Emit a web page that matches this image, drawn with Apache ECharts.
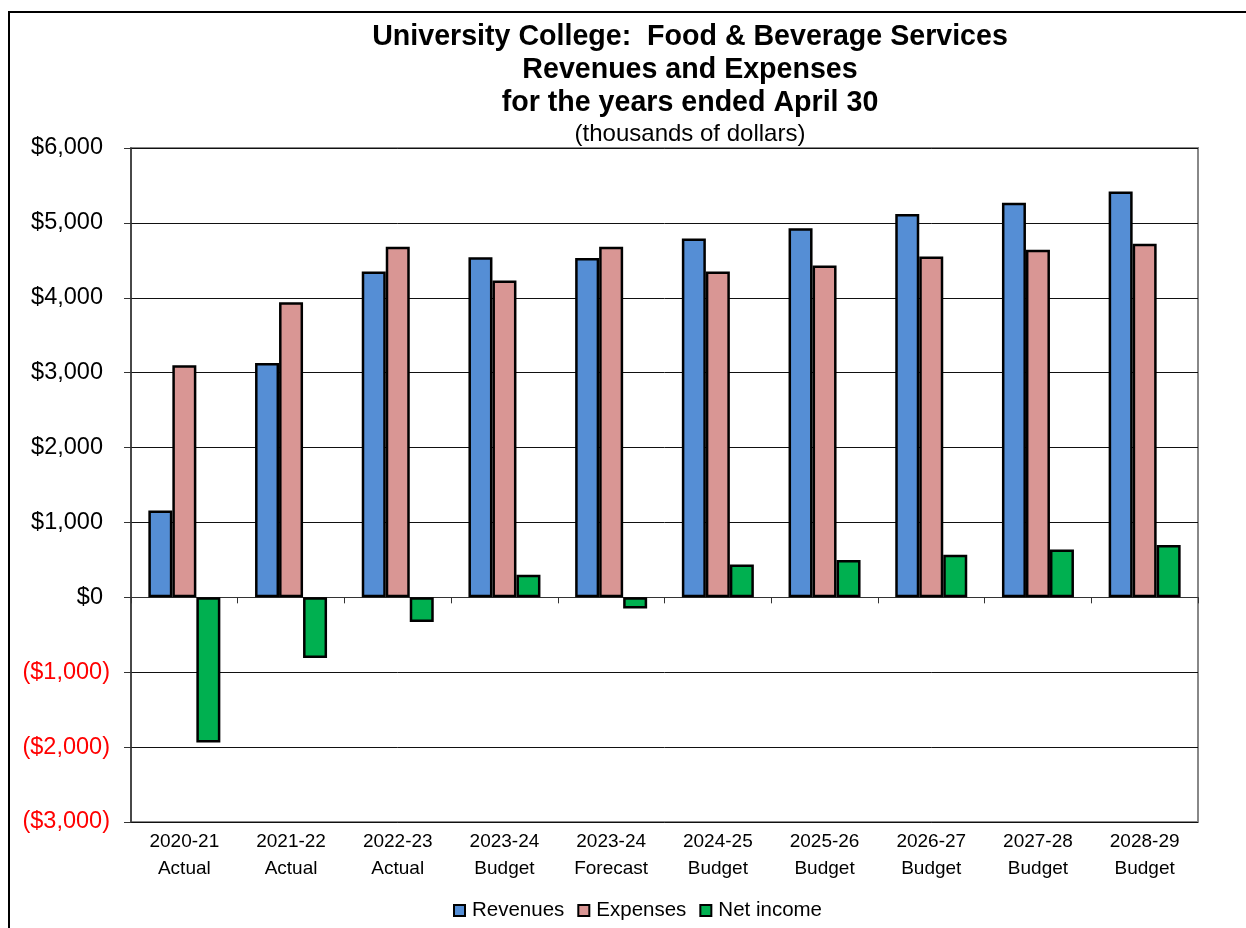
<!DOCTYPE html>
<html>
<head>
<meta charset="utf-8">
<title>University College: Food & Beverage Services</title>
<script src="https://cdn.jsdelivr.net/npm/echarts@6/dist/echarts.min.js"></script>
<style>
  html, body { margin: 0; padding: 0; background: #fff; }
  #chart { width: 1246px; height: 928px; }
</style>
</head>
<body>
<div id="chart"></div>
<script>
// Fiscal years and the kind of figure shown for each (thousands of dollars)
const years = ['2020-21', '2021-22', '2022-23', '2023-24', '2023-24', '2024-25', '2025-26', '2026-27', '2027-28', '2028-29'];
const kinds = ['Actual', 'Actual', 'Actual', 'Budget', 'Forecast', 'Budget', 'Budget', 'Budget', 'Budget', 'Budget'];

const revenues  = [1160, 3130, 4350, 4540, 4530, 4790, 4930, 5120, 5270, 5420];
const expenses  = [3100, 3940, 4680, 4230, 4680, 4350, 4430, 4550, 4640, 4720];
const netIncome = [-1940, -810, -330, 300, -150, 440, 500, 570, 640, 700];

const seriesNames = ['Revenues', 'Expenses', 'Net income'];
const yTicks = { min: -3000, max: 6000, step: 1000 };

const categories = years.map((y, i) => y + '\n' + kinds[i]);

const FONT = "'Liberation Sans', Arial, sans-serif";

function money(v) {
  return '$' + Math.abs(v).toString().replace(/\B(?=(\d{3})+(?!\d))/g, ',');
}

const chart = echarts.init(document.getElementById('chart'), null, { renderer: 'canvas' });

const barStyle = color => ({ color: color, borderColor: '#000', borderWidth: 2.5 });

chart.setOption({
  backgroundColor: '#fff',
  animation: false,
  title: [
    {
      text: 'University College:  Food & Beverage Services\nRevenues and Expenses\nfor the years ended April 30',
      left: 685, top: 16, textAlign: 'center',
      textStyle: { fontFamily: FONT, fontSize: 28.6, fontWeight: 'bold', color: '#000', lineHeight: 33 }
    },
    {
      text: '(thousands of dollars)',
      left: 685, top: 117, textAlign: 'center',
      textStyle: { fontFamily: FONT, fontSize: 24, fontWeight: 'normal', color: '#000' }
    }
  ],
  graphic: [
    {
      type: 'rect', silent: true, z: 100,
      shape: { x: 9, y: 12, width: 1400, height: 1000 },
      style: { fill: 'none', stroke: '#000', lineWidth: 2 }
    }
  ],
  legend: {
    data: seriesNames,
    bottom: 2, left: 448,
    itemWidth: 11, itemHeight: 11, itemGap: 13,
    icon: 'rect',
    textStyle: { fontFamily: FONT, fontSize: 20.5, color: '#000', padding: [0, 0, 0, 2] }
  },
  grid: {
    left: 131, right: 48, top: 148, bottom: 106,
    show: true, borderColor: '#888', borderWidth: 2, backgroundColor: '#fff'
  },
  xAxis: [
    {
      type: 'category', data: categories, position: 'bottom',
      axisLine: { show: false, onZero: false },
      axisTick: { show: false },
      axisLabel: { interval: 0, fontFamily: FONT, fontSize: 19, color: '#000', lineHeight: 27, margin: 6 },
      splitLine: { show: false }
    },
    {
      type: 'category', data: categories, position: 'bottom',
      axisLine: { show: true, onZero: true, lineStyle: { color: '#333', width: 1 } },
      axisTick: { show: true, length: 6, lineStyle: { color: '#333', width: 1 } },
      axisLabel: { show: false },
      splitLine: { show: false }
    }
  ],
  yAxis: {
    type: 'value',
    min: yTicks.min, max: yTicks.max, interval: yTicks.step,
    axisLine: { show: true, onZero: false, lineStyle: { color: '#333', width: 1.5 } },
    axisTick: { show: true, length: 7, lineStyle: { color: '#333', width: 1 } },
    splitLine: { show: true, lineStyle: { color: '#111', width: 1 } },
    axisLabel: {
      margin: 21,
      formatter: v => v < 0 ? '{neg|(' + money(v) + ')}' : '{pos|' + money(v) + '}',
      rich: {
        neg: { fontFamily: FONT, fontSize: 23.5, color: '#FF0000' },
        pos: { fontFamily: FONT, fontSize: 23.5, color: '#000', padding: [0, 7, 0, 0] }
      }
    }
  },
  series: [
    { name: seriesNames[0], type: 'bar', data: revenues,  barWidth: 24, barGap: '0%', itemStyle: barStyle('#558ED5') },
    { name: seriesNames[1], type: 'bar', data: expenses,  barWidth: 24, barGap: '0%', itemStyle: barStyle('#D99694') },
    { name: seriesNames[2], type: 'bar', data: netIncome, barWidth: 24, barGap: '0%', itemStyle: barStyle('#00B050') }
  ]
});
</script>
</body>
</html>
